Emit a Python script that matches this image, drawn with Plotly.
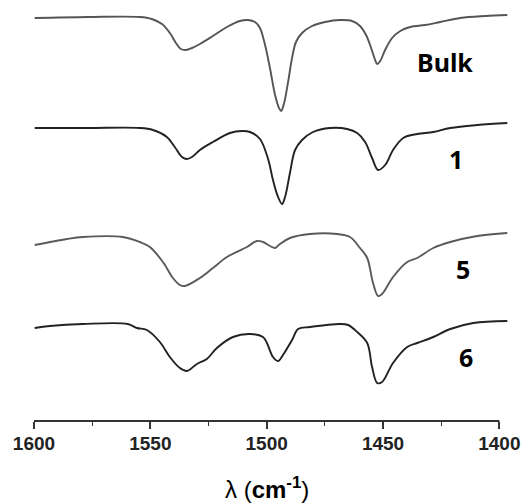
import plotly.graph_objects as go

# --- spectra (wavenumber in cm^-1, stacked intensity a.u.) ---
BULK_WN = [1599.7, 1576.9, 1554.5, 1549.4, 1545.0, 1541.6, 1539.0, 1536.9, 1534.7, 1532.1,
           1528.7, 1523.1, 1517.1, 1511.5, 1508.0, 1505.0, 1502.9, 1500.7, 1498.6, 1496.4,
           1494.7, 1493.8, 1492.6, 1490.8, 1489.1, 1487.4, 1484.8, 1480.5, 1474.9, 1468.5,
           1463.3, 1459.9, 1457.3, 1455.1, 1453.4, 1452.5, 1451.2, 1449.1, 1446.1, 1442.6,
           1438.3, 1431.9, 1425.4, 1416.8, 1406.1, 1396.6]
BULK_I = [4.03, 4.04, 4.04, 4.02, 3.97, 3.88, 3.78, 3.72, 3.71, 3.73,
          3.77, 3.85, 3.94, 4.00, 4.01, 3.99, 3.93, 3.76, 3.53, 3.26,
          3.13, 3.10, 3.17, 3.39, 3.63, 3.79, 3.88, 3.95, 3.99, 4.01,
          4.00, 3.95, 3.86, 3.73, 3.61, 3.57, 3.60, 3.71, 3.83, 3.90,
          3.94, 3.96, 3.99, 4.03, 4.05, 4.06]

S1_WN = [1599.7, 1576.9, 1554.5, 1548.9, 1542.9, 1539.5, 1536.4, 1534.3, 1532.1, 1528.7,
         1523.1, 1515.8, 1510.6, 1507.2, 1502.9, 1499.4, 1497.3, 1495.1, 1493.4, 1492.1,
         1490.0, 1487.8, 1484.8, 1480.1, 1472.8, 1465.4, 1461.1, 1457.7, 1454.7, 1452.1,
         1449.1, 1445.7, 1441.3, 1435.3, 1428.4, 1421.1, 1409.5, 1396.6]
S1_I = [2.93, 2.93, 2.93, 2.91, 2.84, 2.74, 2.64, 2.62, 2.64, 2.71,
        2.79, 2.88, 2.90, 2.89, 2.82, 2.62, 2.41, 2.24, 2.17, 2.24,
        2.48, 2.71, 2.81, 2.89, 2.93, 2.92, 2.88, 2.79, 2.63, 2.51,
        2.56, 2.71, 2.83, 2.87, 2.89, 2.93, 2.96, 2.98]

S5_WN = [1599.7, 1585.9, 1579.0, 1561.8, 1554.5, 1550.2, 1544.6, 1540.3, 1537.3, 1535.2,
         1528.7, 1523.1, 1517.1, 1508.5, 1504.2, 1501.6, 1498.6, 1496.4, 1494.3, 1490.0,
         1481.4, 1469.7, 1464.2, 1459.9, 1456.8, 1454.3, 1452.1, 1450.4, 1445.7, 1439.6,
         1435.3, 1428.4, 1421.1, 1409.5, 1396.6]
S5_I = [1.76, 1.82, 1.84, 1.84, 1.79, 1.74, 1.59, 1.43, 1.36, 1.35,
        1.43, 1.53, 1.64, 1.74, 1.80, 1.79, 1.75, 1.73, 1.77, 1.83,
        1.87, 1.87, 1.84, 1.73, 1.63, 1.38, 1.25, 1.27, 1.44, 1.59,
        1.63, 1.73, 1.79, 1.85, 1.88]

S6_WN = [1599.7, 1593.2, 1579.0, 1559.7, 1555.8, 1551.5, 1545.9, 1541.6, 1537.3, 1534.3,
         1530.0, 1525.7, 1521.4, 1514.5, 1507.2, 1501.6, 1499.9, 1497.3, 1495.1, 1493.0,
         1489.1, 1486.5, 1481.4, 1468.5, 1465.0, 1461.1, 1456.8, 1454.7, 1452.5, 1450.4,
         1445.7, 1439.6, 1435.3, 1428.4, 1421.1, 1411.2, 1396.6]
S6_I = [0.93, 0.95, 0.97, 0.97, 0.93, 0.91, 0.79, 0.64, 0.53, 0.50,
        0.57, 0.62, 0.73, 0.84, 0.87, 0.84, 0.78, 0.64, 0.60, 0.66,
        0.81, 0.92, 0.94, 0.97, 0.96, 0.89, 0.78, 0.54, 0.38, 0.39,
        0.58, 0.74, 0.78, 0.84, 0.92, 0.98, 1.00]

LABELS = ["Bulk", "1", "5", "6"]
LABEL_WN = [1423.3, 1418.5, 1415.5, 1414.2]
LABEL_I = [3.59, 2.62, 1.52, 0.64]

TICKS = [1600, 1550, 1500, 1450, 1400]
MINOR_TICKS = [1575, 1525, 1475, 1425]

series = [(BULK_WN, BULK_I, "#555555"), (S1_WN, S1_I, "#222222"),
          (S5_WN, S5_I, "#5a5a5a"), (S6_WN, S6_I, "#222222")]

fig = go.Figure()
for (wn, inten, col), name in zip(series, LABELS):
    fig.add_trace(go.Scatter(x=wn, y=inten, mode="lines", name=name,
                             line=dict(color=col, width=1.9, shape="spline", smoothing=1.0),
                             showlegend=False, hoverinfo="skip"))

for name, lx, ly in zip(LABELS, LABEL_WN, LABEL_I):
    fig.add_annotation(x=lx, y=ly, text="<b>%s</b>" % name, showarrow=False,
                       xanchor="center", yanchor="middle",
                       font=dict(family="Noto Sans", size=25, color="black"))

# axis title
fig.add_annotation(x=1500, y=-0.163, yref="paper", xref="x", showarrow=False,
                   xanchor="center", yanchor="middle",
                   text="λ (<b>cm<sup>-1</sup></b>)",
                   font=dict(family="Liberation Sans", size=24, color="black"))

# axis line only spans the labelled range
fig.add_shape(type="line", xref="x", yref="paper", x0=TICKS[0], x1=TICKS[-1], y0=0, y1=0,
              line=dict(color="#333333", width=1.8))

# page body adds an 8px margin, so the figure is 8px smaller each way
fig.update_layout(
    width=523, height=496,
    margin=dict(l=26, r=20, t=0, b=83),
    plot_bgcolor="white", paper_bgcolor="white",
    xaxis=dict(range=[1600, 1395], tickmode="array", tickvals=TICKS,
               ticktext=[str(t) for t in TICKS],
               ticks="outside", ticklen=7, tickwidth=1.6, tickcolor="#333333",
               ticklabelstandoff=-2,
               minor=dict(tickvals=MINOR_TICKS, ticks="outside", ticklen=4,
                          tickwidth=1.4, tickcolor="#333333"),
               showline=False, showgrid=False, zeroline=False,
               tickfont=dict(family="Liberation Sans", size=19, color="#222222", weight="bold")),
    yaxis=dict(range=[0, 4.13], visible=False, showgrid=False, zeroline=False),
)

fig.write_html("out.html")
